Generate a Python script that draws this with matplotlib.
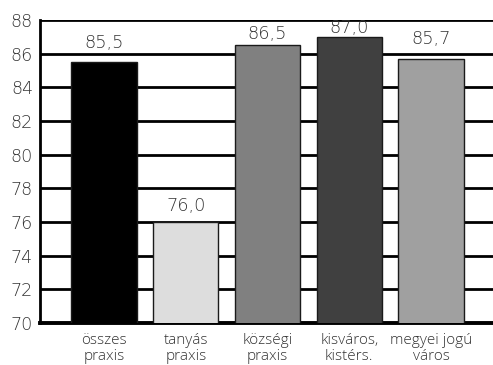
import matplotlib
matplotlib.use("Agg")
import matplotlib.pyplot as plt

# Practice categories and their scores
categories = ["összes\npraxis", "tanyás\npraxis", "községi\npraxis",
              "kisváros,\nkistérs.", "megyei jogú\nváros"]
values = [85.5, 76.0, 86.5, 87.0, 85.7]
y_ticks = [70, 72, 74, 76, 78, 80, 82, 84, 86, 88]

# Styling
bar_colors = ["#000000", "#dddddd", "#808080", "#404040", "#a0a0a0"]
label_offsets_pt = [13.8, 11.3, 8.3, 6.0, 13.9]
text_color = "#333333"

plt.rcParams["font.family"] = ["DejaVu Sans"]

fig = plt.figure(figsize=(4.93, 3.65), dpi=100)
ax = fig.add_axes([40 / 493, 42 / 365, 1 - 40 / 493, 303 / 365])

x = list(range(len(values)))
bars = ax.bar(x, values, width=0.8, bottom=0, color=bar_colors,
              edgecolor="#1a1a1a", linewidth=1.0, zorder=3)

ax.set_ylim(70, 88)
ax.set_xlim(-0.783, 4.758)
ax.set_yticks(y_ticks)
ax.set_yticklabels([str(t) for t in y_ticks], fontsize=12.6, color=text_color,
                   fontweight="light")
ax.set_xticks(x)
ax.set_xticklabels(categories, fontsize=11, color=text_color,
                   family=["Open Sans", "DejaVu Sans"],
                   fontweight="light", linespacing=1.05)
ax.tick_params(axis="both", length=0)
ax.tick_params(axis="y", pad=5)
ax.tick_params(axis="x", pad=7.5)

ax.yaxis.grid(True, color="black", linewidth=2.0, zorder=0)
ax.set_axisbelow(True)

for side in ["top", "right"]:
    ax.spines[side].set_visible(False)
ax.spines["left"].set_linewidth(2.0)
ax.spines["bottom"].set_linewidth(2.8)

for xi, v, off in zip(x, values, label_offsets_pt):
    ax.annotate(f"{v:.1f}".replace(".", ","), xy=(xi, v),
                xytext=(0, off), textcoords="offset points",
                ha="center", va="center", fontsize=12.8, color=text_color,
                fontweight="light", zorder=4)

fig.savefig("out.png", dpi=100)
